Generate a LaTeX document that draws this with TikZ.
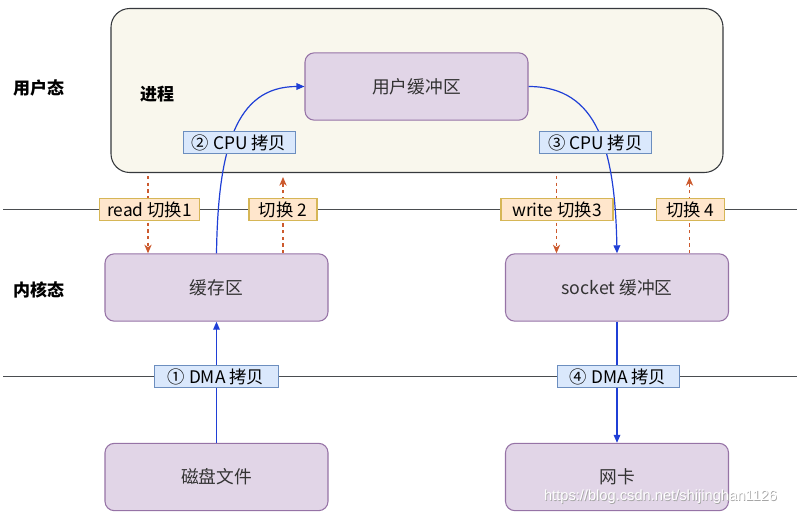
\documentclass[tikz,border=0pt]{standalone}
\usepackage{fontspec}
\setmainfont{Noto Sans CJK SC}
\newfontfamily\wmfont{Liberation Sans}
\usetikzlibrary{arrows.meta,calc}
\definecolor{procfill}{HTML}{F9F7ED}
\definecolor{procdraw}{HTML}{36393D}
\definecolor{buffill}{HTML}{E1D5E7}
\definecolor{bufdraw}{HTML}{9673A6}
\definecolor{lblbluefill}{HTML}{DAE8FC}
\definecolor{lblbluedraw}{HTML}{6C8EBF}
\definecolor{lblorfill}{HTML}{FFE6CC}
\definecolor{lblordraw}{HTML}{D6B656}
\definecolor{arrblue}{HTML}{1F3FD6}
\definecolor{arror}{HTML}{CC5A2E}
\definecolor{txtgray}{HTML}{333333}
\tikzset{
  procbox/.style={fill=procfill, draw=procdraw, line width=0.8pt, rounded corners=14pt,
    minimum width=459pt, minimum height=123pt},
  bufbox/.style={fill=buffill, draw=bufdraw, line width=0.8pt, rounded corners=7pt,
    minimum width=167.25pt, minimum height=50.5pt,
    font=\fontsize{13.3pt}{15pt}\selectfont, text=txtgray},
  bluelbl/.style={fill=lblbluefill, draw=lblbluedraw, line width=0.6pt, inner sep=0pt,
    minimum height=17pt, font=\fontsize{13pt}{14pt}\selectfont, text=black},
  orlbl/.style={fill=lblorfill, draw=lblordraw, line width=0.8pt, inner sep=0pt,
    minimum height=17pt, font=\fontsize{13pt}{14pt}\selectfont, text=black},
  sidelbl/.style={font=\fontsize{12.75pt}{14pt}\selectfont\bfseries, text=black},
  bluearr/.style={draw=arrblue, line width=0.9pt, -{Triangle[length=6pt,width=5pt]}},
  orarr/.style={draw=arror, line width=0.8pt, dash pattern=on 2.5pt off 2.5pt,
    -{Stealth[length=6.5pt,width=5.5pt,inset=2pt]}},
  sepline/.style={draw=procdraw!90, line width=0.7pt}
}
\begin{document}
\begin{tikzpicture}[x=0.75pt,y=-0.75pt]
\useasboundingbox (0,0) rectangle (798,517);
% separator lines
\coordinate (l1a) at (3,209.5);
\coordinate (l1b) at (797,209.5);
\coordinate (l2a) at (3,376.5);
\coordinate (l2b) at (797,376.5);
\draw[sepline] (l1a) -- (l1b);
\draw[sepline] (l2a) -- (l2b);
% process box
\node[procbox] (proc) at (417,90.5) {};
% side labels
\node[sidelbl] (user) at (38.5,88) {用户态};
\node[sidelbl] (kern) at (38.5,289.5) {内核态};
\node[sidelbl] (jc) at (157,94) {进程};
% buffers
\node[bufbox] (ubuf) at (416.5,86.5) {用户缓冲区};
\node[bufbox] (cache) at (216.5,287.5) {缓存区};
\node[bufbox] (sock) at (617,287.5) {socket 缓冲区};
\node[bufbox] (disk) at (216.5,477) {磁盘文件};
\node[bufbox] (nic) at (617,477) {网卡};
% x positions for mode switch arrows
\coordinate (x1) at (148,0);
\coordinate (x2) at (283,0);
\coordinate (x3) at (556.5,0);
\coordinate (x4) at (689.5,0);
% orange dashed switch arrows
\draw[orarr] ($(proc.south -| x1)+(0,3)$) -- (cache.north -| x1);
\draw[orarr] (cache.north -| x2) -- ($(proc.south -| x2)+(0,4)$);
\draw[orarr] ($(proc.south -| x3)+(0,3)$) -- (sock.north -| x3);
\draw[orarr] (sock.north -| x4) -- ($(proc.south -| x4)+(0,4)$);
% blue copy arrows
\draw[bluearr] (disk.north) -- (cache.south);
\draw[bluearr] (cache.north) .. controls (218,150) and (235,86.5) .. (ubuf.west);
\draw[bluearr] (ubuf.east) .. controls (598,86.5) and (615,150) .. (sock.north);
\draw[bluearr] (sock.south) -- (nic.north);
% labels
\node[bluelbl, minimum width=84pt] (c2) at (239,142.5) {② CPU 拷贝};
\node[bluelbl, minimum width=84.5pt] (c3) at (595.5,142.5) {③ CPU 拷贝};
\node[bluelbl, minimum width=93pt] (d1) at (216,376.5) {① DMA 拷贝};
\node[bluelbl, minimum width=91.5pt] (d4) at (618,376.5) {④ DMA 拷贝};
\node[orlbl, minimum width=75.5pt] (s1) at (149.5,209.5) {read 切换1};
\node[orlbl, minimum width=51pt] (s2) at (283,209.5) {切换 2};
\node[orlbl, minimum width=84pt] (s3) at (557,209.5) {write 切换3};
\node[orlbl, minimum width=50.5pt] (s4) at (690.5,209.5) {切换 4};
% watermark
\node[font=\wmfont\fontsize{11pt}{13pt}\selectfont, text=black!35] (wm0) at (661.3,497.3) {https://blog.csdn.net/shijinghan1126};
\node[font=\wmfont\fontsize{11pt}{13pt}\selectfont, text=white] (wm) at (660.5,496.5) {https://blog.csdn.net/shijinghan1126};
\end{tikzpicture}
\end{document}
